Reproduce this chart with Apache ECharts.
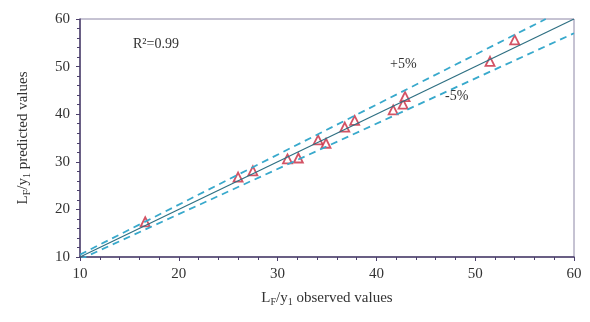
<!DOCTYPE html>
<html>
<head>
<meta charset="utf-8">
<script src="https://cdn.jsdelivr.net/npm/echarts@6/dist/echarts.min.js"></script>
<style>html,body{margin:0;padding:0;background:#fff}#main{width:590px;height:322px}</style>
</head>
<body>
<div id="main"></div>
<script>
// observed vs predicted
var observed  = [16.6, 26.0, 27.5, 31.0, 32.1, 34.1, 34.9, 36.8, 37.8, 41.7, 42.7, 42.9, 51.5, 54.0];
var predicted = [17.4, 26.8, 28.1, 30.6, 30.8, 34.6, 33.9, 37.3, 38.7, 40.9, 42.1, 43.7, 51.1, 55.6];
var lineX = [10, 60];
var upperX = [10, 57.14];

var pts = observed.map(function (v, i) { return [v, predicted[i]]; });

var dom = document.getElementById('main');
var chart = echarts.init(dom);
var serif = 'Liberation Serif';
var axisCol = '#4b3f6b';

var option = {
    backgroundColor: '#fff',
    animation: false,
    textStyle: { fontFamily: serif },
    grid: { left: 80, right: 16, top: 19, bottom: 65, show: true, borderColor: '#8c86a6', borderWidth: 1 },
    xAxis: {
        type: 'value', min: 10, max: 60, interval: 10,
        name: '{a|L}{s|F}{a|/y}{s|1}{a| observed values}',
        nameLocation: 'middle', nameGap: 32,
        nameTextStyle: { rich: { a: { fontFamily: serif, fontSize: 15, color: '#333' }, s: { fontFamily: serif, fontSize: 10, color: '#333', verticalAlign: 'bottom', padding: [8, 0, 0, 0] } } },
        axisLine: { lineStyle: { color: axisCol, width: 1.5 } },
        axisTick: { inside: false, length: 4, lineStyle: { color: axisCol } },
        minorTick: { show: true, splitNumber: 5, length: 3, lineStyle: { color: axisCol } },
        axisLabel: { fontFamily: serif, fontSize: 15, color: '#333', margin: 10 },
        splitLine: { show: false }
    },
    yAxis: {
        type: 'value', min: 10, max: 60, interval: 10,
        name: '{a|L}{s|F}{a|/y}{s|1}{a| predicted values}',
        nameLocation: 'middle', nameGap: 48,
        nameTextStyle: { rich: { a: { fontFamily: serif, fontSize: 15, color: '#333' }, s: { fontFamily: serif, fontSize: 10, color: '#333', verticalAlign: 'bottom', padding: [8, 0, 0, 0] } } },
        axisLine: { lineStyle: { color: axisCol, width: 1.5 } },
        axisTick: { inside: false, length: 4, lineStyle: { color: axisCol } },
        minorTick: { show: true, splitNumber: 5, length: 3, lineStyle: { color: axisCol } },
        axisLabel: { fontFamily: serif, fontSize: 15, color: '#333', margin: 10 },
        splitLine: { show: false }
    },
    series: [
        {
            type: 'line', symbol: 'none', silent: true,
            data: lineX.map(function (x) { return [x, x]; }),
            lineStyle: { color: '#2e6f82', width: 1.2 }
        },
        {
            type: 'line', symbol: 'none', silent: true,
            data: upperX.map(function (x) { return [x, x * 1.05]; }),
            lineStyle: { color: '#38a9cc', width: 1.8, type: [7, 5] }
        },
        {
            type: 'line', symbol: 'none', silent: true,
            data: lineX.map(function (x) { return [x, x * 0.95]; }),
            lineStyle: { color: '#38a9cc', width: 1.8, type: [7, 5] }
        },
        {
            type: 'scatter', symbol: 'triangle', symbolSize: 9,
            data: pts,
            itemStyle: { color: '#fff', borderColor: '#c8283e', borderWidth: 1.8 }
        }
    ],
    graphic: [
        { type: 'text', left: 133, top: 37, style: { text: 'R²=0.99', font: '14px "Liberation Serif"', fill: '#333' } },
        { type: 'text', left: 390, top: 57, style: { text: '+5%', font: '14px "Liberation Serif"', fill: '#333' } },
        { type: 'text', left: 445, top: 89, style: { text: '-5%', font: '14px "Liberation Serif"', fill: '#333' } }
    ]
};
chart.setOption(option);
</script>
</body>
</html>
